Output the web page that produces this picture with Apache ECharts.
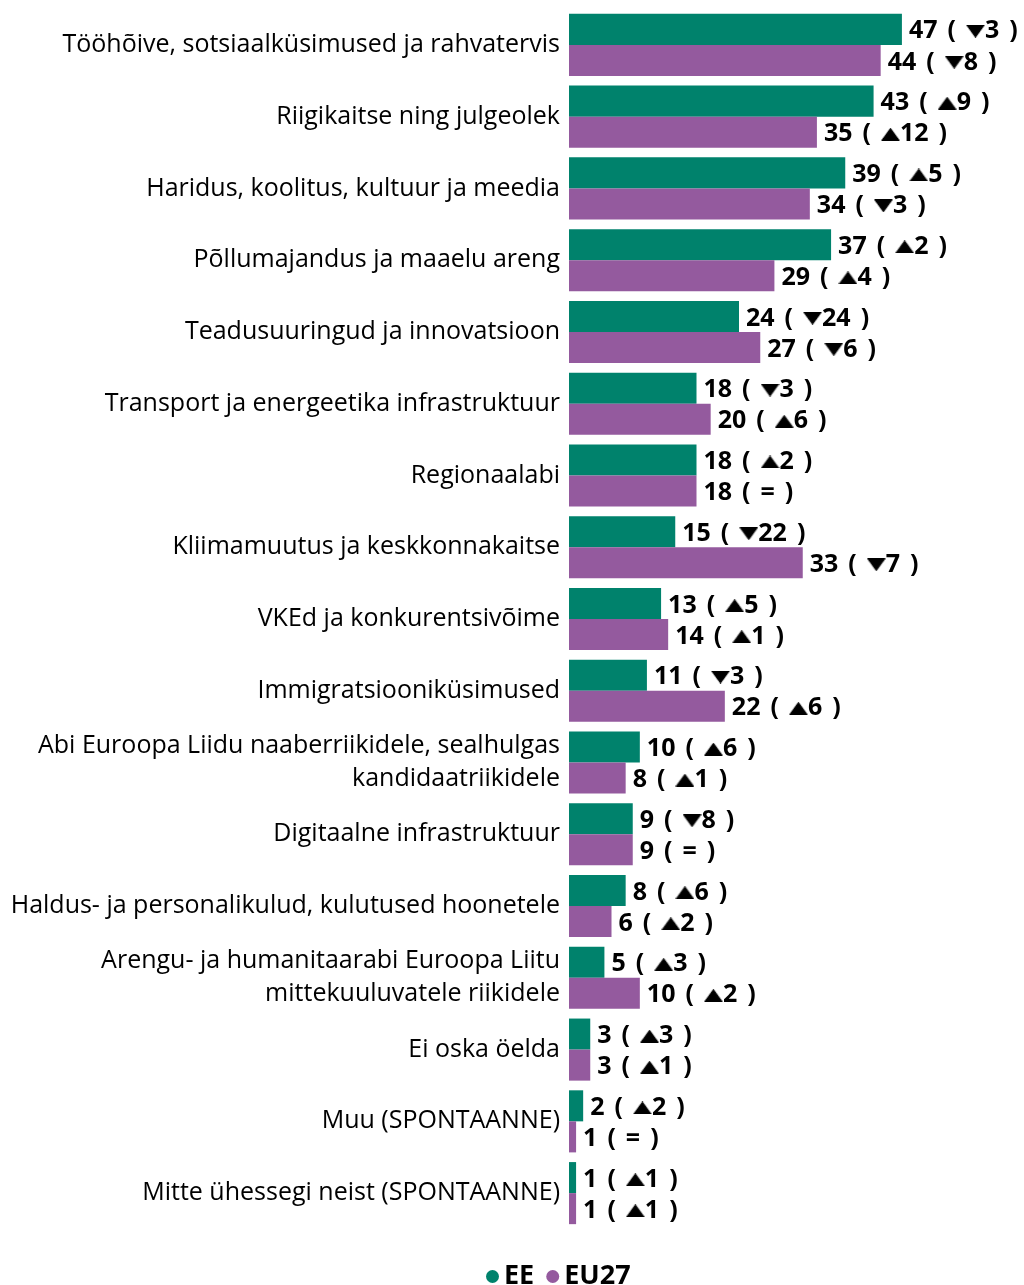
<!DOCTYPE html>
<html>
<head>
<meta charset="utf-8">
<script src="https://cdn.jsdelivr.net/npm/echarts@6/dist/echarts.min.js"></script>
<style>
  html, body { margin: 0; padding: 0; background: #fff; }
  #chart { width: 1024px; height: 1285px; }
</style>
</head>
<body>
<div id="chart"></div>
<script>
    var categories = [
        'Tööhõive, sotsiaalküsimused ja rahvatervis',
        'Riigikaitse ning julgeolek',
        'Haridus, koolitus, kultuur ja meedia',
        'Põllumajandus ja maaelu areng',
        'Teadusuuringud ja innovatsioon',
        'Transport ja energeetika infrastruktuur',
        'Regionaalabi',
        'Kliimamuutus ja keskkonnakaitse',
        'VKEd ja konkurentsivõime',
        'Immigratsiooniküsimused',
        'Abi Euroopa Liidu naaberriikidele, sealhulgas\nkandidaatriikidele',
        'Digitaalne infrastruktuur',
        'Haldus- ja personalikulud, kulutused hoonetele',
        'Arengu- ja humanitaarabi Euroopa Liitu\nmittekuuluvatele riikidele',
        'Ei oska öelda',
        'Muu (SPONTAANNE)',
        'Mitte ühessegi neist (SPONTAANNE)'
    ];
    var eeValues   = [47, 43, 39, 37, 24, 18, 18, 15, 13, 11, 10, 9, 8, 5, 3, 2, 1];
    var eeChange   = [-3, 9, 5, 2, -24, -3, 2, -22, 5, -3, 6, -8, 6, 3, 3, 2, 1];
    var euValues   = [44, 35, 34, 29, 27, 20, 18, 33, 14, 22, 8, 9, 6, 10, 3, 1, 1];
    var euChange   = [-8, 12, -3, 4, -6, 6, 0, -7, 1, 6, 1, 0, 2, 2, 1, 0, 1];

    var GREEN = '#00826c', PURPLE = '#945a9e';
    var FONT = 'Open Sans';

    // small flat triangles used inside the labels
    function makeTriangle(up) {
        var c = document.createElement('canvas');
        c.width = 19; c.height = 9;
        var ctx = c.getContext('2d');
        ctx.fillStyle = '#000';
        ctx.beginPath();
        if (up) {
            ctx.moveTo(9.5, 0); ctx.lineTo(19, 9); ctx.lineTo(0, 9);
        } else {
            ctx.moveTo(0, 0); ctx.lineTo(19, 0); ctx.lineTo(9.5, 9);
        }
        ctx.closePath();
        ctx.fill();
        return c;
    }
    var triUp = makeTriangle(true), triDown = makeTriangle(false);

    // builds "47 ( ▼3 )"
    function labelText(changes) {
        return function (p) {
            var c = changes[p.dataIndex];
            var mid;
            if (c > 0) mid = '{up|}' + c;
            else if (c < 0) mid = '{down|}' + (-c);
            else mid = '=';
            return p.value + '{gap|}({gap|}' + mid + '{gap|})';
        };
    }

    var labelRich = {
        up: {width: 19, height: 9, backgroundColor: {image: triUp}, padding: [0, 0, 4, 0]},
        down: {width: 19, height: 9, backgroundColor: {image: triDown}, padding: [0, 0, 4, 0]},
        gap: {width: 10}
    };

    var chart = echarts.init(document.getElementById('chart'));
    var option = {
        animation: false,
        textStyle: {fontFamily: FONT},
        grid: {left: 569, top: 9, width: 425, height: 1220, containLabel: false},
        legend: {
            top: 1258,
            left: 481,
            icon: 'circle',
            itemWidth: 13,
            itemHeight: 13,
            itemGap: 12,
            textStyle: {fontFamily: FONT, fontSize: 27, fontWeight: 'bold', color: '#000'},
            data: ['EE', 'EU27']
        },
        xAxis: {
            type: 'value',
            min: 0,
            max: 60,
            show: false
        },
        yAxis: {
            type: 'category',
            inverse: true,
            data: categories,
            axisLine: {show: false},
            axisTick: {show: false},
            axisLabel: {
                margin: 9,
                fontFamily: FONT,
                fontSize: 25,
                color: '#000',
                lineHeight: 33,
                align: 'right',
                padding: [4, 0, 0, 0]
            }
        },
        series: [
            {
                name: 'EE',
                type: 'bar',
                data: eeValues,
                barGap: '0%',
                barCategoryGap: '13.5%',
                itemStyle: {color: GREEN},
                label: {
                    show: true,
                    position: 'right',
                    distance: 7,
                    fontFamily: FONT,
                    fontSize: 25,
                    fontWeight: 'bold',
                    color: '#000',
                    padding: [4, 0, 0, 0],
                    formatter: labelText(eeChange),
                    rich: labelRich
                }
            },
            {
                name: 'EU27',
                type: 'bar',
                data: euValues,
                itemStyle: {color: PURPLE},
                label: {
                    show: true,
                    position: 'right',
                    distance: 7,
                    fontFamily: FONT,
                    fontSize: 25,
                    fontWeight: 'bold',
                    color: '#000',
                    padding: [4, 0, 0, 0],
                    formatter: labelText(euChange),
                    rich: labelRich
                }
            }
        ]
    };
    chart.setOption(option);
</script>
</body>
</html>
